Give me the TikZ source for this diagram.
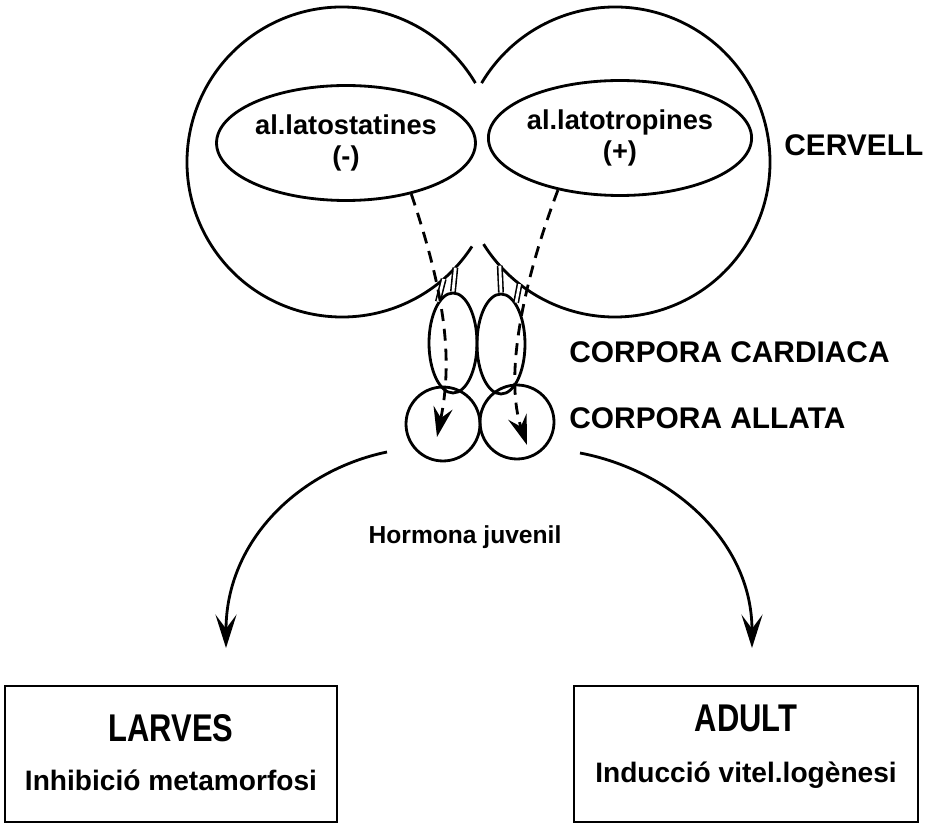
\documentclass[tikz,border=0pt]{standalone}
\usepackage{fontspec}
\setmainfont{Liberation Sans}
\usepackage{graphicx}
\usetikzlibrary{arrows.meta, shapes.geometric}
\newcommand{\Corpora}{CORPORA}

\begin{document}
\begin{tikzpicture}[x=0.02cm, y=0.02cm, line width=1.6pt,
  hormone/.style={draw, ellipse, minimum width=5.18cm, minimum height=2.3cm, inner sep=0pt, align=center, font=\fontsize{15.5}{18}\selectfont\bfseries},
  gland/.style={draw, ellipse, minimum width=0.96cm, minimum height=2cm, inner sep=0pt},
  allata/.style={draw, circle, minimum size=1.48cm, inner sep=0pt},
  nerve/.style={double, double distance=1.6pt, line width=0.9pt},
  tag/.style={anchor=west, inner sep=0pt, font=\fontsize{17}{20}\selectfont\bfseries},
  dashedarrow/.style={dash pattern=on 6.8pt off 4.5pt, -{Stealth[length=17pt, width=11pt, inset=6pt]}},
  arrow/.style={-{Stealth[length=19pt, width=12pt, inset=8pt]}},
  box/.style={draw, line width=1pt, minimum width=6.64cm, minimum height=2.72cm},
  boxtitle/.style={inner sep=0pt, font=\fontsize{22}{24}\selectfont\bfseries},
  boxtext/.style={inner sep=0pt, font=\fontsize{16}{19}\selectfont\bfseries}
]
\useasboundingbox (0,0) rectangle (927,826);

\coordinate (cervL) at (342,664);
\coordinate (cervR) at (615,664);
\draw (cervL) ++(30.6:155) arc[start angle=30.6, end angle=327, radius=155];
\draw (cervR) ++(149.4:155) arc[start angle=149.4, end angle=-148, radius=155];

\node[hormone] (statines) at (346,683) {al.latostatines\\(-)};
\node[hormone] (tropines) at (620,688) {al.latotropines\\(+)};

\node[gland] (cardL) at (453,483) {};
\node[gland] (cardR) at (501,482) {};
\node[allata] (allL) at (443,402) {};
\node[allata] (allR) at (517,404) {};

\draw[nerve] ([shift={(-43:155)}]cervL) -- (cardL.north);
\draw[nerve] ([shift={(-49:155)}]cervL) -- (cardL.110);
\draw[nerve] ([shift={(-138:155)}]cervR) -- (cardR.north);
\draw[nerve] ([shift={(-128:155)}]cervR) -- (cardR.70);

\coordinate (tipL) at (437,389);
\coordinate (tipR) at (527,381);
\draw[dashedarrow] (statines.-38) .. controls (440,546) and (455,476) .. (tipL);
\draw[dashedarrow] (tropines.-140) .. controls (520,536) and (505,446) .. (tipR);

\node[tag] (cervell) at (783,681) {CERVELL};
\node[tag] (cardiaca) at (568,474) {\Corpora{} CARDIACA};
\node[tag] (allata) at (568,408) {\Corpora{} ALLATA};
\node[inner sep=0pt, font=\fontsize{14}{16}\selectfont\bfseries] (hormona) at (465,289) {Hormona juvenil};

\node[box] (larves) at (171,72) {};
\node[box, minimum width=6.88cm] (adult) at (746,72) {};
\node[boxtitle] (larvesT) at (171,98) {\scalebox{0.8}[1]{LARVES}};
\node[boxtext] (larvesD) at (171,46) {Inhibició metamorfosi};
\node[boxtitle] (adultT) at (746,108) {\scalebox{0.8}[1]{ADULT}};
\node[boxtext] (adultD) at (746,51) {Inducció vitel.logènesi};

\coordinate (hormL) at (387,374);
\coordinate (hormR) at (580,373);
\coordinate (inL) at (226,178);
\coordinate (inR) at (752,178);
\draw[arrow] (hormL) .. controls (300,356) and (226,286) .. (inL);
\draw[arrow] (hormR) .. controls (670,356) and (752,286) .. (inR);
\end{tikzpicture}
\end{document}
